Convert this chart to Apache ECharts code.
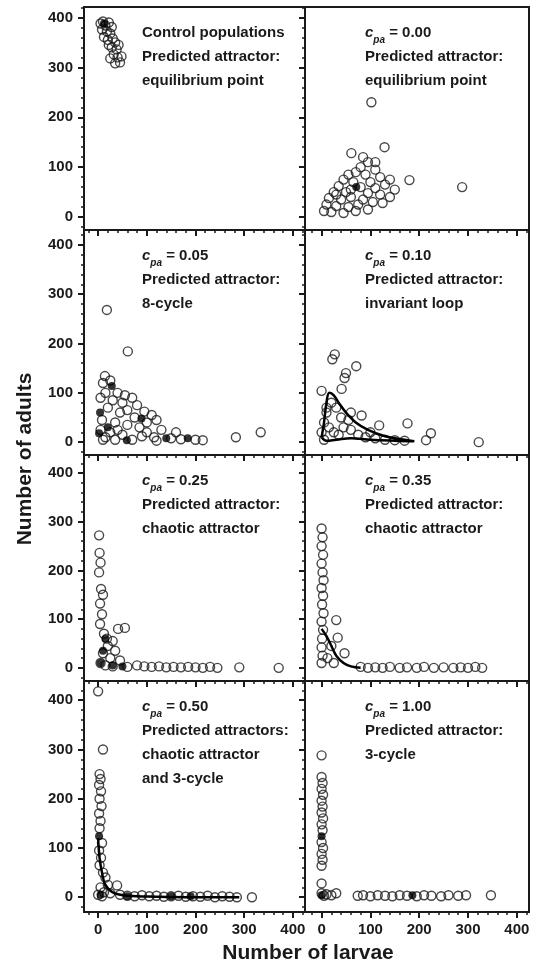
<!DOCTYPE html>
<html>
<head>
<meta charset="utf-8">
<script src="https://cdn.jsdelivr.net/npm/echarts@6/dist/echarts.min.js"></script>
<style>
html, body { margin: 0; padding: 0; background: #fff; }
#main { width: 536px; height: 966px; }
</style>
</head>
<body>
<div id="main"></div>
<script>
var myChart = echarts.init(document.getElementById('main'));

// tick labels
var xTickLabels = [0, 100, 200, 300, 400];
var yTickLabels = [0, 100, 200, 300, 400];

// control populations
var controlObs = [[5,388],[10,392],[15,384],[22,390],[28,381],[8,376],[18,372],[25,368],[12,361],
    [20,355],[30,358],[35,350],[22,345],[28,340],[38,336],[32,326],[40,320],[25,318],[45,310],
    [35,308],[48,322],[42,345]];
var controlPred = [[12,388]];

// c_pa = 0.00
var c000Obs = [[102,230],[129,140],[61,128],[180,74],[288,60],[95,110],[80,100],[110,95],[70,90],
    [55,85],[90,85],[120,80],[140,75],[45,75],[65,70],[100,70],[130,65],[35,62],[80,60],[110,58],
    [150,55],[25,50],[50,50],[95,48],[120,45],[60,40],[15,38],[40,35],[85,35],[105,30],[125,28],
    [10,25],[30,22],[55,20],[75,25],[95,15],[5,12],[20,10],[45,8],[70,12],[140,40],[30,45],
    [60,55],[110,110],[85,120]];
var c000Pred = [[71,60]];

// c_pa = 0.05
var c005Obs = [[18,268],[61,184],[14,134],[10,120],[25,125],[40,100],[55,95],[70,90],[50,80],
    [80,75],[30,85],[60,65],[95,62],[110,55],[120,45],[15,100],[5,90],[20,70],[45,60],[75,50],
    [100,40],[8,45],[35,40],[60,35],[85,30],[130,25],[5,25],[25,20],[50,15],[90,12],[115,10],
    [150,8],[170,6],[200,5],[215,4],[10,5],[35,5],[70,5],[120,3],[283,10],[334,20],[15,10],
    [40,25],[160,20],[100,20]];
var c005Pred = [[28,114],[4,60],[89,48],[2,18],[59,4],[140,8],[184,8],[20,30]];

// c_pa = 0.10
var c010Obs = [[27,178],[22,168],[71,154],[47,130],[41,108],[0,104],[50,140],[10,60],[5,40],
    [20,80],[30,70],[40,50],[55,45],[82,54],[118,34],[176,38],[224,18],[214,4],[322,0],[15,30],
    [25,20],[35,15],[60,25],[75,15],[90,10],[110,8],[130,5],[150,4],[170,3],[0,20],[5,5],
    [10,70],[45,30],[60,60],[100,20]];
var c010Loop = [[0,10],[5,40],[10,80],[16,100],[25,95],[35,80],[50,60],[70,40],[95,25],[130,12],
    [170,5],[190,2],[150,3],[100,5],[60,8],[30,5],[10,3],[0,10]];

// c_pa = 0.25
var c025Obs = [[2,272],[3,236],[5,216],[2,196],[6,162],[10,150],[4,132],[8,110],[4,90],[12,70],
    [18,60],[30,55],[41,80],[55,82],[20,45],[35,35],[10,30],[25,20],[45,15],[5,10],[15,5],
    [30,3],[60,2],[80,5],[95,3],[110,2],[125,3],[140,1],[155,2],[170,1],[185,2],[200,1],
    [215,0],[230,2],[245,0],[290,1],[371,0]];
var c025Pred = [[15,60],[10,35],[5,10],[30,5],[50,3]];

// c_pa = 0.35
var c035Obs = [[0,286],[2,268],[0,250],[3,232],[0,214],[2,196],[4,180],[0,164],[3,148],[1,130],
    [4,112],[0,95],[3,78],[1,60],[0,42],[2,25],[0,10],[30,98],[33,62],[47,30],[20,45],[12,20],
    [25,10],[80,2],[95,0],[110,1],[125,0],[140,2],[160,0],[175,1],[195,0],[210,2],[230,0],
    [250,1],[270,0],[285,1],[300,0],[315,2],[329,0]];
var c035Line = [[0,80],[10,65],[20,45],[30,25],[45,10],[60,3],[80,0]];

// c_pa = 0.50
var c050Obs = [[0,418],[10,300],[3,250],[5,240],[2,228],[6,215],[3,200],[7,185],[2,170],[5,155],
    [3,140],[8,110],[2,95],[6,80],[3,65],[10,50],[15,40],[39,24],[20,25],[5,20],[12,10],[25,8],
    [45,5],[60,3],[75,2],[90,4],[105,2],[120,3],[135,1],[150,2],[165,3],[180,1],[195,2],
    [210,1],[225,3],[240,0],[255,2],[270,1],[285,0],[316,0],[0,5],[8,2]];
var c050Pred = [[2,124],[5,5],[60,2],[150,2],[190,2]];
var c050Line = [[0,120],[3,80],[8,50],[15,25],[30,10],[60,3],[120,1],[200,0],[290,0]];

// c_pa = 1.00
var c100Obs = [[0,288],[0,244],[2,232],[0,220],[3,208],[0,196],[2,184],[0,172],[3,160],[0,148],
    [2,136],[0,112],[3,100],[0,88],[2,76],[0,64],[0,28],[0,8],[5,3],[10,6],[30,8],[20,4],
    [74,3],[85,4],[100,2],[115,4],[130,3],[145,2],[160,4],[175,3],[195,2],[210,4],[225,3],
    [245,2],[260,4],[280,3],[296,4],[347,4]];
var c100Pred = [[0,124],[0,4],[186,4]];

// panel annotations
var panelText = [
    ['Control populations', 'Predicted attractor:', 'equilibrium point'],
    ['{c|c}{s|pa} = 0.00', 'Predicted attractor:', 'equilibrium point'],
    ['{c|c}{s|pa} = 0.05', 'Predicted attractor:', '8-cycle'],
    ['{c|c}{s|pa} = 0.10', 'Predicted attractor:', 'invariant loop'],
    ['{c|c}{s|pa} = 0.25', 'Predicted attractor:', 'chaotic attractor'],
    ['{c|c}{s|pa} = 0.35', 'Predicted attractor:', 'chaotic attractor'],
    ['{c|c}{s|pa} = 0.50', 'Predicted attractors:', 'chaotic attractor', 'and 3-cycle'],
    ['{c|c}{s|pa} = 1.00', 'Predicted attractor:', '3-cycle']
];

var panels = [
    {obs: controlObs, pred: controlPred},
    {obs: c000Obs, pred: c000Pred},
    {obs: c005Obs, pred: c005Pred},
    {obs: c010Obs, line: c010Loop},
    {obs: c025Obs, pred: c025Pred},
    {obs: c035Obs, line: c035Line},
    {obs: c050Obs, pred: c050Pred, line: c050Line},
    {obs: c100Obs, pred: c100Pred}
];

// layout
var colLeft = [84, 305], colWidth = [221, 224];
var rowTop = [7, 230, 455, 681], rowHeight = [223, 225, 226, 231];
var xMin = [-29, -34], xMax = 425;
var yMin = [-26, -26, -27, -30], yMax = [421, 430, 437, 439];
var minorTicks = [];
for (var t = -20; t <= 420; t += 20) minorTicks.push(t);

var font = 'Liberation Sans, Arial, sans-serif';
var ink = '#1a1a1a';

var grids = [], xAxes = [], yAxes = [], series = [], graphics = [];

panels.forEach(function (p, i) {
    var col = i % 2, row = Math.floor(i / 2);
    grids.push({
        left: colLeft[col], top: rowTop[row], width: colWidth[col], height: rowHeight[row],
        show: true, borderColor: ink, borderWidth: 2, backgroundColor: 'transparent',
        outerBoundsMode: 'none'
    });
    // main axes
    xAxes.push({
        gridIndex: i, type: 'value', position: 'bottom', min: xMin[col], max: xMax,
        axisLine: {onZero: false, lineStyle: {color: ink, width: 2}},
        axisTick: {show: true, inside: false, length: 6, customValues: xTickLabels, lineStyle: {color: ink, width: 2}},
        axisLabel: {show: row === 3, customValues: xTickLabels, margin: 10, color: ink,
            fontSize: 15, fontWeight: 'bold', fontFamily: font},
        splitLine: {show: false}
    });
    yAxes.push({
        gridIndex: i, type: 'value', position: 'left', min: yMin[row], max: yMax[row],
        axisLine: {onZero: false, lineStyle: {color: ink, width: 2}},
        axisTick: {show: true, inside: false, length: 6, customValues: yTickLabels, lineStyle: {color: ink, width: 2}},
        axisLabel: {show: col === 0, customValues: yTickLabels, margin: 11, color: ink,
            fontSize: 15, fontWeight: 'bold', fontFamily: font},
        splitLine: {show: false}
    });
    series.push({
        type: 'scatter', xAxisIndex: i * 2, yAxisIndex: i * 2, data: p.obs,
        symbol: 'circle', symbolSize: 9, silent: true,
        itemStyle: {color: 'rgba(255,255,255,0)', borderColor: ink, borderWidth: 1.4},
        z: 3
    });
    if (p.line) {
        series.push({
            type: 'line', xAxisIndex: i * 2, yAxisIndex: i * 2, data: p.line,
            showSymbol: false, smooth: 0.4, silent: true,
            lineStyle: {color: '#000', width: 2.5}, z: 4
        });
    }
    if (p.pred) {
        series.push({
            type: 'scatter', xAxisIndex: i * 2, yAxisIndex: i * 2, data: p.pred,
            symbol: 'circle', symbolSize: 8, silent: true,
            itemStyle: {color: '#000'}, z: 5
        });
    }
    // minor tick axes
    xAxes.push({
        gridIndex: i, type: 'value', position: 'bottom', min: xMin[col], max: xMax,
        axisLine: {show: false, onZero: false},
        axisTick: {show: true, inside: false, length: 3, customValues: minorTicks, lineStyle: {color: ink, width: 1.5}},
        axisLabel: {show: false}, splitLine: {show: false}
    });
    yAxes.push({
        gridIndex: i, type: 'value', position: 'left', min: yMin[row], max: yMax[row],
        axisLine: {show: false, onZero: false},
        axisTick: {show: true, inside: false, length: 3, customValues: minorTicks, lineStyle: {color: ink, width: 1.5}},
        axisLabel: {show: false}, splitLine: {show: false}
    });
    graphics.push({
        type: 'text',
        x: colLeft[col] + (col === 0 ? 58 : 60),
        y: rowTop[row] + 14,
        z: 10,
        style: {
            text: panelText[i].join('\n'),
            fill: ink,
            font: 'bold 15px ' + font,
            lineHeight: 24,
            rich: {
                c: {fontSize: 15, fontWeight: 'bold', fontStyle: 'italic', fontFamily: font, lineHeight: 24},
                s: {fontSize: 10, fontWeight: 'bold', fontStyle: 'italic', fontFamily: font, lineHeight: 10, verticalAlign: 'bottom'}
            }
        }
    });
});

graphics.push({
    type: 'text', x: 25, y: 459, rotation: Math.PI / 2,
    style: {text: 'Number of adults', fill: ink, font: 'bold 21px ' + font, align: 'center', verticalAlign: 'middle'}
});
graphics.push({
    type: 'text', x: 308, y: 953,
    style: {text: 'Number of larvae', fill: ink, font: 'bold 21px ' + font, align: 'center', verticalAlign: 'middle'}
});

var option = {
    backgroundColor: '#fff',
    animation: false,
    grid: grids,
    xAxis: xAxes,
    yAxis: yAxes,
    series: series,
    graphic: graphics
};

myChart.setOption(option);
</script>
</body>
</html>
